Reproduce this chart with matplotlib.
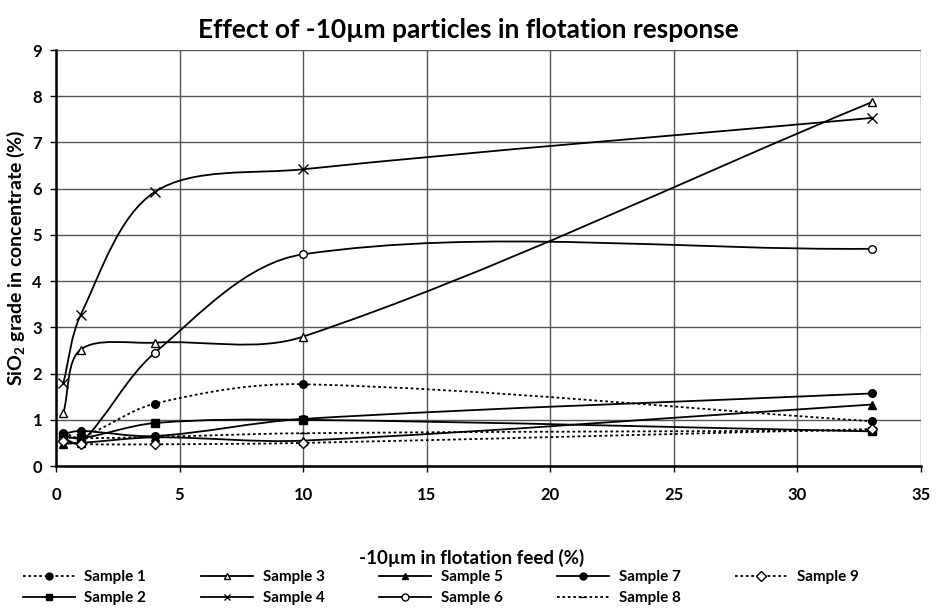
import numpy as np
import matplotlib.pyplot as plt
from matplotlib.path import Path
from matplotlib.patches import PathPatch
from matplotlib.lines import Line2D

plt.rcParams["font.family"] = ["Lato", "DejaVu Sans"]
plt.rcParams["font.weight"] = "bold"

# -10um fraction in flotation feed (%)
feed = [0.3, 1, 4, 10, 33]

sample_1 = [0.72, 0.62, 1.35, 1.77, 0.97]
sample_2 = [0.65, 0.60, 0.93, 1.00, 0.75]
sample_3 = [1.15, 2.52, 2.67, 2.80, 7.87]
sample_4 = [1.80, 3.27, 5.93, 6.42, 7.53]
sample_5 = [0.48, 0.50, 0.62, 0.55, 1.33]
sample_6 = [0.60, 0.50, 2.45, 4.58, 4.70]
sample_7 = [0.70, 0.76, 0.65, 1.02, 1.57]
sample_8 = [0.62, 0.60, 0.63, 0.71, 0.77]
sample_9 = [0.55, 0.48, 0.47, 0.50, 0.80]

labels = ["Sample 1", "Sample 2", "Sample 3", "Sample 4", "Sample 5",
          "Sample 6", "Sample 7", "Sample 8", "Sample 9"]
series = [sample_1, sample_2, sample_3, sample_4, sample_5,
          sample_6, sample_7, sample_8, sample_9]

# line style, marker, marker face
STYLES = [
    ((0, (1.5, 1.5)), "o", "black"),
    ("-", "s", "black"),
    ("-", "^", "white"),
    ("-", "x", "black"),
    ("-", "^", "black"),
    ("-", "o", "white"),
    ("-", "o", "black"),
    ((0, (1.5, 1.5)), "_", "black"),
    ((0, (1.5, 1.5)), "D", "white"),
]

XMAX, YMAX = 35, 9


def smooth_path(xs, ys, sx, sy):
    """Excel-like smoothed line: chord-weighted cubic Bezier segments,
    computed in screen-proportional units (sx, sy = px per data unit)."""
    pts = np.column_stack([np.asarray(xs) * sx, np.asarray(ys) * sy])
    n = len(pts)
    seg = np.linalg.norm(np.diff(pts, axis=0), axis=1)
    tang = []
    for i in range(n):
        if i == 0:
            tang.append((pts[1] - pts[0]) / seg[0])
        elif i == n - 1:
            tang.append((pts[-1] - pts[-2]) / seg[-1])
        else:
            tang.append((pts[i + 1] - pts[i - 1]) / (seg[i - 1] + seg[i]))
    verts = [pts[0]]
    codes = [Path.MOVETO]
    for i in range(n - 1):
        c1 = pts[i] + tang[i] * seg[i] / 3.0
        c2 = pts[i + 1] - tang[i + 1] * seg[i] / 3.0
        verts += [c1, c2, pts[i + 1]]
        codes += [Path.CURVE4] * 3
    verts = np.array(verts) / np.array([sx, sy])
    return Path(verts, codes)


fig = plt.figure(figsize=(9.44, 6.10), dpi=100)
ax = fig.add_axes([0.0593, 0.236, 0.9163, 0.682])
sx = 0.9163 * 944 / XMAX
sy = 0.682 * 610 / YMAX

handles = []
for vals, lab, (ls, mk, fc) in zip(series, labels, STYLES):
    ax.add_patch(PathPatch(smooth_path(feed, vals, sx, sy), fill=False,
                           edgecolor="black", linewidth=1.3, linestyle=ls,
                           zorder=3))
    ms = 7 if mk == "x" else 5.5
    ax.plot(feed, vals, linestyle="none", marker=mk, markersize=ms,
            markerfacecolor=fc, markeredgecolor="black",
            markeredgewidth=1.0, zorder=4)
    handles.append(Line2D([], [], color="black", linestyle=ls, linewidth=1.3,
                          marker=mk, markersize=5, markerfacecolor=fc,
                          markeredgecolor="black", markeredgewidth=1.0))

ax.set_xlim(0, XMAX)
ax.set_ylim(0, YMAX)
ax.set_xticks(range(0, 36, 5))
ax.set_yticks(range(0, 10))
ax.grid(True, color="#555555", linewidth=1.0)
ax.set_axisbelow(True)
for side in ["top", "right"]:
    ax.spines[side].set_visible(False)
for side in ["left", "bottom"]:
    ax.spines[side].set_linewidth(1.8)
ax.tick_params(direction="out", length=4, width=1, labelsize=12)
ax.tick_params(axis="x", pad=11)
ax.tick_params(axis="y", pad=6)
for lab in ax.get_xticklabels() + ax.get_yticklabels():
    lab.set_fontweight("bold")

ax.set_title("Effect of -10µm particles in flotation response",
             fontsize=19, fontweight="bold", pad=9, x=0.477)
ax.set_ylabel("SiO$_\\mathregular{2}$ grade in concentrate (%)",
              fontsize=14, fontweight="bold", labelpad=4)
ax.set_xlabel("-10µm in flotation feed (%)", fontsize=13.5,
              fontweight="bold", labelpad=33, x=0.481)

fig.legend(handles, labels, loc="upper center", ncol=5, frameon=False,
           bbox_to_anchor=(0.467, 0.083), fontsize=11, handlelength=3.4,
           columnspacing=3.6, labelspacing=0.45, handletextpad=0.6,
           borderpad=0.2)

fig.savefig("out.png", dpi=100)
